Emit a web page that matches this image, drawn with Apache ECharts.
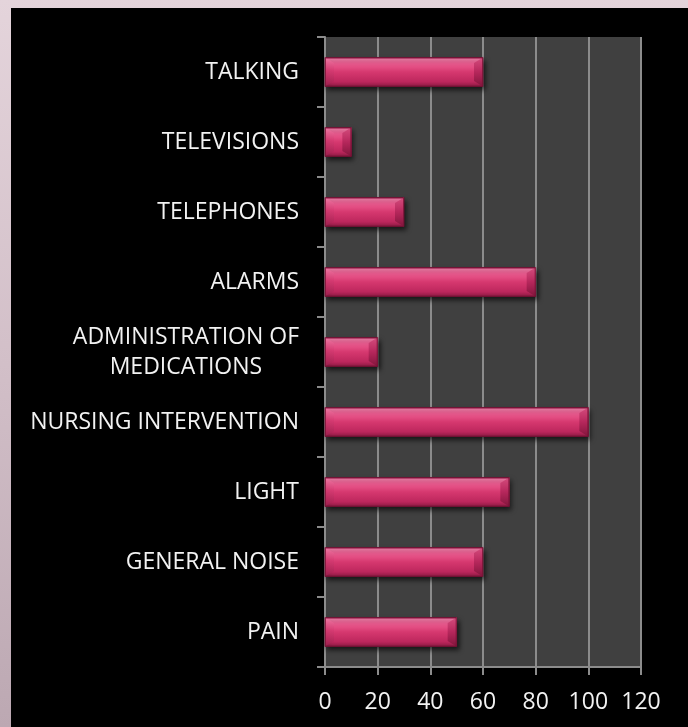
<!DOCTYPE html>
<html>
<head>
<meta charset="utf-8">
<script src="https://cdn.jsdelivr.net/npm/echarts@6/dist/echarts.min.js"></script>
<style>
  html, body { margin: 0; padding: 0; width: 688px; height: 727px; overflow: hidden;
    background: linear-gradient(180deg, #e4d4db 0%, #d2bfc8 50%, #bca8b2 100%); }
  #frame { position: absolute; left: 11px; top: 8px; width: 677px; height: 719px; background: #000; }
  #chart { width: 677px; height: 719px; }
</style>
</head>
<body>
<div id="frame"><div id="chart"></div></div>
<script>
// Categories listed top to bottom
const categories = [
  'TALKING',
  'TELEVISIONS',
  'TELEPHONES',
  'ALARMS',
  'ADMINISTRATION OF MEDICATIONS',
  'NURSING INTERVENTION',
  'LIGHT',
  'GENERAL NOISE',
  'PAIN'
];
const values = [60, 10, 30, 80, 20, 100, 70, 60, 50];
const xTicks = [0, 20, 40, 60, 80, 100, 120];

const FONT = '"Open Sans", sans-serif';
const LABEL_SIZE = 23;

// measure text so the two-line label can be centred on itself
const ctx = document.createElement('canvas').getContext('2d');
ctx.font = LABEL_SIZE + 'px "Open Sans"';
function textW(s) { return ctx.measureText(s).width; }

function yLabel(v) {
  if (v === 'ADMINISTRATION OF MEDICATIONS') {
    return '{a|ADMINISTRATION OF}\n{b|MEDICATIONS}';
  }
  return v;
}
const padB = (textW('ADMINISTRATION OF') - textW('MEDICATIONS')) / 2;

const BAR_H = 29;
const BEVEL = 9;

function renderBar(params, api) {
  const cat = api.value(0);
  const val = api.value(1);
  const p0 = api.coord([0, cat]);
  const p1 = api.coord([val, cat]);
  const x0 = p0[0], x1 = p1[0];
  const y0 = p0[1] - BAR_H / 2, y1 = p0[1] + BAR_H / 2, ym = p0[1];
  const b = Math.min(BEVEL, (x1 - x0) / 2);
  const face = new echarts.graphic.LinearGradient(0, 0, 0, 1, [
    { offset: 0, color: '#dc4a80' },
    { offset: 0.08, color: '#f47ca8' },
    { offset: 0.2, color: '#ee5f93' },
    { offset: 0.5, color: '#d6386f' },
    { offset: 0.82, color: '#bd275d' },
    { offset: 1, color: '#8e1a44' }
  ]);
  const leftFacet = new echarts.graphic.LinearGradient(0, 0, 0, 1, [
    { offset: 0, color: '#f27aa6' },
    { offset: 0.45, color: '#d43a71' },
    { offset: 1, color: '#a01f4e' }
  ]);
  const rightFacet = new echarts.graphic.LinearGradient(0, 0, 0, 1, [
    { offset: 0, color: '#d24678' },
    { offset: 0.5, color: '#b02458' },
    { offset: 1, color: '#7c1439' }
  ]);
  return {
    type: 'group',
    children: [
      {
        type: 'rect',
        shape: { x: x0, y: y0, width: x1 - x0, height: BAR_H },
        style: { fill: face, stroke: 'rgba(110,15,50,0.9)', lineWidth: 1,
          shadowBlur: 5, shadowOffsetX: 2, shadowOffsetY: 3, shadowColor: 'rgba(0,0,0,0.65)' }
      },
      {
        type: 'polygon',
        shape: { points: [[x0, y0], [x0 + b, y0 + b * 0.6], [x0 + b, y1 - b * 0.6], [x0, y1]] },
        style: { fill: leftFacet, opacity: 0.8 }
      },
      {
        type: 'polygon',
        shape: { points: [[x1, y0], [x1 - b, y0 + b * 0.6], [x1 - b, y1 - b * 0.6], [x1, y1]] },
        style: { fill: rightFacet, opacity: 0.85 }
      },
      {
        type: 'rect',
        shape: { x: x0 + 0.5, y: y0 + 0.5, width: x1 - x0 - 1, height: BAR_H - 1 },
        style: { fill: 'none', stroke: 'rgba(120,20,55,0.8)', lineWidth: 1 }
      }
    ]
  };
}

const chart = echarts.init(document.getElementById('chart'), null, { renderer: 'canvas' });
chart.setOption({
  backgroundColor: '#000',
  animation: false,
  grid: {
    left: 314, top: 29, width: 316, height: 630,
    show: true, backgroundColor: '#404040', borderWidth: 0
  },
  xAxis: {
    type: 'value',
    min: xTicks[0], max: xTicks[xTicks.length - 1], interval: 20,
    axisLine: { show: true, lineStyle: { color: '#8c8c8c', width: 2 } },
    axisTick: { show: true, length: 8, lineStyle: { color: '#8c8c8c', width: 2 } },
    splitLine: { show: true, lineStyle: { color: '#8c8c8c', width: 2 } },
    axisLabel: { color: '#f2f2f2', fontSize: LABEL_SIZE, fontFamily: FONT, margin: 24 }
  },
  yAxis: {
    type: 'category',
    data: categories,
    inverse: true,
    axisLine: { show: true, lineStyle: { color: '#8c8c8c', width: 2 } },
    axisTick: { show: true, length: 8, alignWithLabel: false, lineStyle: { color: '#8c8c8c', width: 2 } },
    splitLine: { show: false },
    axisLabel: {
      color: '#f2f2f2', fontSize: LABEL_SIZE, fontFamily: FONT, margin: 26,
      formatter: yLabel,
      rich: {
        a: { color: '#f2f2f2', fontSize: LABEL_SIZE, fontFamily: FONT, lineHeight: 30 },
        b: { color: '#f2f2f2', fontSize: LABEL_SIZE, fontFamily: FONT, lineHeight: 30, padding: [0, padB, 0, 0] }
      }
    }
  },
  series: [{
    type: 'custom',
    renderItem: renderBar,
    encode: { x: 1, y: 0 },
    data: categories.map((c, i) => [i, values[i]])
  }]
});
</script>
</body>
</html>
